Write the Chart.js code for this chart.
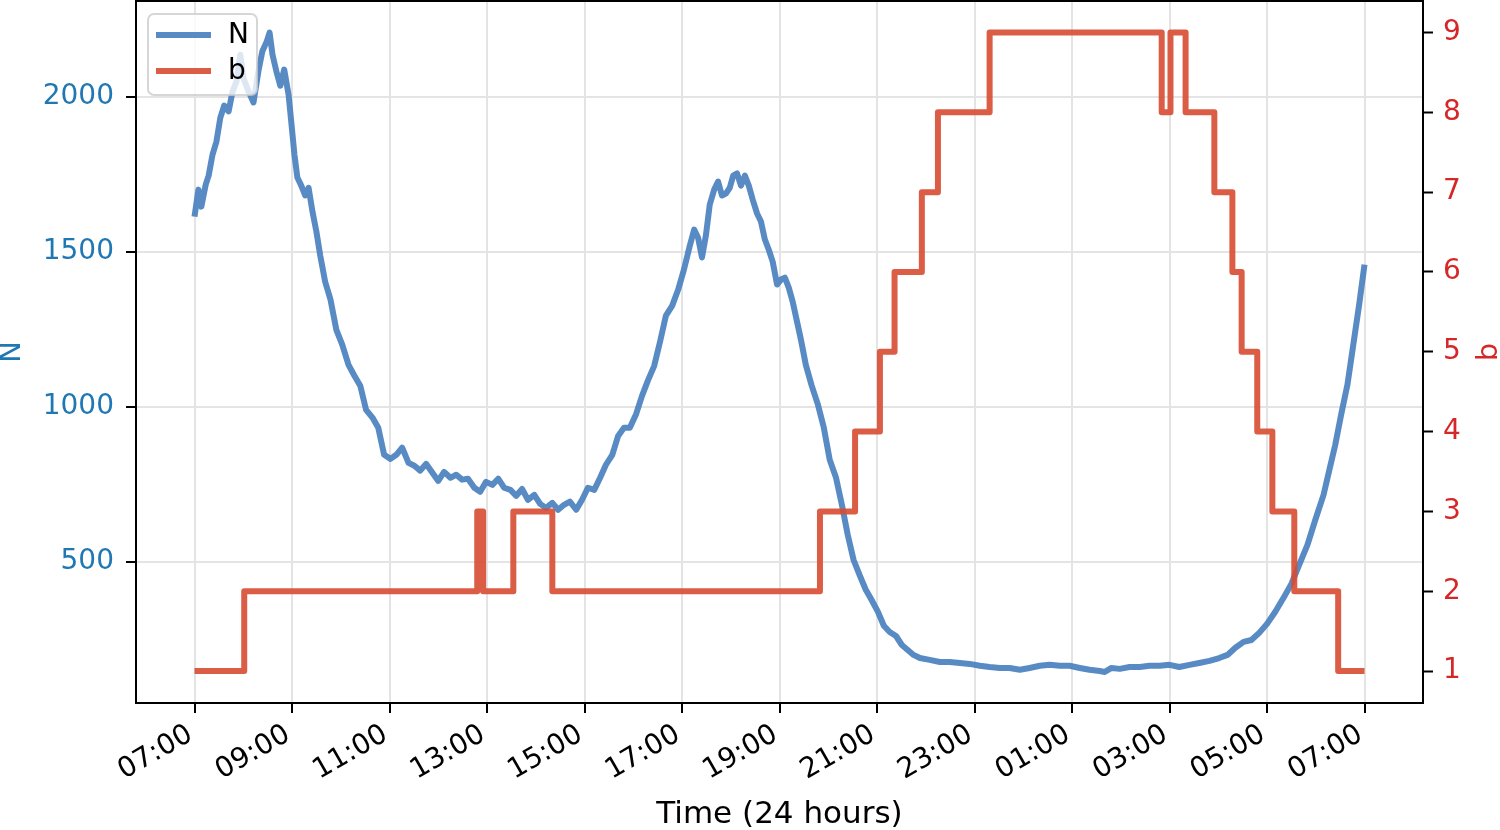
<!DOCTYPE html>
<html><head><meta charset="utf-8">
<script src="https://cdn.jsdelivr.net/npm/chart.js@4.4.1/dist/chart.umd.min.js"></script>
<style>html,body{margin:0;padding:0;background:#fff}canvas{display:block}</style>
</head><body>
<canvas id="c" width="1500" height="830"></canvas>
<script>
// ---- data (hours since 07:00) ----
const timeHours = [0,0.08,0.14,0.23,0.29,0.37,0.45,0.53,0.61,0.70,0.78,0.86,0.94,1.00,1.11,1.21,1.31,1.39,1.48,1.54,1.60,1.68,1.76,1.84,1.93,1.99,2.05,2.11,2.19,2.27,2.34,2.42,2.50,2.58,2.68,2.79,2.91,3.03,3.16,3.28,3.40,3.52,3.65,3.77,3.89,4.02,4.14,4.26,4.39,4.51,4.63,4.75,4.88,5.00,5.12,5.25,5.37,5.49,5.61,5.74,5.86,5.98,6.11,6.23,6.35,6.48,6.60,6.72,6.84,6.97,7.09,7.21,7.34,7.46,7.58,7.70,7.83,7.95,8.07,8.20,8.32,8.44,8.57,8.69,8.81,8.93,9.06,9.18,9.30,9.43,9.55,9.67,9.80,9.92,10.04,10.16,10.25,10.33,10.41,10.49,10.57,10.66,10.74,10.82,10.90,10.98,11.05,11.13,11.21,11.29,11.37,11.45,11.54,11.62,11.70,11.78,11.86,11.95,12.03,12.11,12.19,12.27,12.36,12.44,12.54,12.66,12.79,12.91,13.03,13.16,13.28,13.40,13.52,13.65,13.77,13.89,14.02,14.14,14.26,14.39,14.51,14.63,14.75,14.88,15.08,15.29,15.49,15.70,15.90,16.11,16.31,16.52,16.72,16.93,17.13,17.34,17.54,17.75,17.95,18.16,18.36,18.57,18.67,18.81,18.98,19.18,19.39,19.59,19.80,20.00,20.20,20.41,20.61,20.82,21.02,21.19,21.35,21.52,21.68,21.84,22.00,22.17,22.34,22.50,22.66,22.83,22.99,23.16,23.28,23.40,23.52,23.65,23.77,23.89,24.00];
const nValues = [1613,1700,1645,1716,1745,1813,1855,1932,1971,1952,2016,2048,2135,2061,2016,1981,2081,2145,2177,2206,2135,2081,2035,2087,2006,1910,1813,1739,1713,1681,1706,1629,1565,1487,1403,1345,1248,1200,1135,1100,1068,990,965,932,845,832,845,868,819,810,794,816,787,761,790,771,781,765,768,739,726,758,748,768,739,732,713,735,700,716,687,674,690,668,684,694,668,700,739,732,771,813,845,906,932,932,977,1035,1084,1132,1210,1294,1326,1377,1442,1519,1571,1545,1481,1552,1652,1700,1726,1681,1687,1706,1745,1752,1713,1745,1713,1668,1623,1597,1539,1506,1468,1394,1410,1416,1384,1339,1274,1216,1135,1068,1006,932,829,771,684,587,506,455,410,377,339,294,274,261,232,216,200,190,184,177,177,174,171,165,161,158,158,152,158,165,168,165,165,158,152,148,145,158,155,161,161,165,165,168,161,168,174,181,190,200,223,242,248,271,300,339,384,429,490,555,635,716,797,877,974,1071,1200,1329,1458];
const bTimes = [0,1.02,5.80,5.92,6.54,7.34,12.83,13.55,14.06,14.36,14.92,15.25,16.31,19.84,20.02,20.33,20.92,21.29,21.48,21.80,22.11,22.56,23.46,24.00];
const bValues = [1,2,3,2,3,2,3,4,5,6,7,8,9,8,9,8,7,6,5,4,3,2,1,1];
const xTickValues = [0,2,4,6,8,10,12,14,16,18,20,22,24];
const xTickLabels = ['07:00','09:00','11:00','13:00','15:00','17:00','19:00','21:00','23:00','01:00','03:00','05:00','07:00'];
const nTicks = [500,1000,1500,2000];
const bTicks = [1,2,3,4,5,6,7,8,9];
const seriesNames = ['N','b'];
const xTitle = 'Time (24 hours)';

const FONT = 'DejaVu Sans';
const nColor = 'rgba(70,125,190,0.9)';
const bColor = 'rgba(215,75,50,0.9)';
const nTickColor = '#1f77b4';
const bTickColor = '#d62728';

const toXY = (xs, ys) => xs.map((x, i) => ({x: x, y: ys[i]}));

const framePlugin = {
  id: 'frame',
  afterDatasetsDraw(chart) {
    const {ctx, chartArea: a} = chart;
    ctx.save();
    ctx.strokeStyle = '#000';
    ctx.lineWidth = 2;
    ctx.strokeRect(a.left, a.top, a.right - a.left, a.bottom - a.top);
    ctx.restore();
  },
  afterDraw(chart) {
    const {ctx, chartArea: a} = chart;
    // right axis title (bottom-to-top)
    ctx.save();
    ctx.font = '29px "' + FONT + '"';
    ctx.fillStyle = bTickColor;
    ctx.textAlign = 'center';
    ctx.textBaseline = 'middle';
    ctx.translate(1489, (a.top + a.bottom) / 2);
    ctx.rotate(-Math.PI / 2);
    ctx.fillText(seriesNames[1], 0, 0);
    ctx.restore();
    // legend
    ctx.save();
    const lx = 148, ly = 14, lw = 109, lh = 81, r = 6;
    ctx.beginPath();
    ctx.moveTo(lx + r, ly);
    ctx.arcTo(lx + lw, ly, lx + lw, ly + lh, r);
    ctx.arcTo(lx + lw, ly + lh, lx, ly + lh, r);
    ctx.arcTo(lx, ly + lh, lx, ly, r);
    ctx.arcTo(lx, ly, lx + lw, ly, r);
    ctx.closePath();
    ctx.fillStyle = 'rgba(255,255,255,0.8)';
    ctx.fill();
    ctx.strokeStyle = 'rgba(204,204,204,0.8)';
    ctx.lineWidth = 2;
    ctx.stroke();
    const cols = [nColor, bColor];
    const rows = [35, 71];
    ctx.font = '28px "' + FONT + '"';
    ctx.textBaseline = 'middle';
    ctx.textAlign = 'left';
    chart.data.datasets.forEach((ds, i) => {
      ctx.strokeStyle = cols[i];
      ctx.lineWidth = 6;
      ctx.beginPath();
      ctx.moveTo(156, rows[i]);
      ctx.lineTo(211, rows[i]);
      ctx.stroke();
      ctx.fillStyle = '#000';
      ctx.fillText(ds.label, 228, rows[i] + 1);
    });
    ctx.restore();
  }
};

new Chart(document.getElementById('c'), {
  type: 'line',
  data: {
    datasets: [
      {label: seriesNames[0], data: toXY(timeHours, nValues), yAxisID: 'yN',
       borderColor: nColor, borderWidth: 6, pointRadius: 0, tension: 0,
       borderJoinStyle: 'round', order: 2},
      {label: seriesNames[1], data: toXY(bTimes, bValues), yAxisID: 'yB',
       borderColor: bColor, borderWidth: 6, pointRadius: 0, tension: 0,
       stepped: 'before', borderJoinStyle: 'round', order: 1}
    ]
  },
  options: {
    responsive: false,
    animation: false,
    devicePixelRatio: 1,
    layout: {padding: {top: 1, left: 0, right: 0, bottom: 0}},
    plugins: {legend: {display: false}, tooltip: {enabled: false}},
    scales: {
      x: {
        type: 'linear', min: -1.2, max: 25.2,
        afterBuildTicks: s => { s.ticks = xTickValues.map(v => ({value: v})); },
        afterFit: s => { s.height = 127; s.paddingLeft = 0; s.paddingRight = 0; },
        ticks: {
          autoSkip: false, minRotation: 30, maxRotation: 30, padding: 5, labelOffset: -4,
          color: '#000', font: {family: FONT, size: 28},
          callback: v => xTickLabels[xTickValues.indexOf(v)]
        },
        grid: {color: '#e4e4e4', lineWidth: 2, tickColor: '#000', tickLength: 10, tickWidth: 2},
        border: {display: false},
        title: {display: true, text: xTitle, color: '#000', font: {family: FONT, size: 31, lineHeight: 1.0}, padding: {top: 0, bottom: 0}}
      },
      yN: {
        type: 'linear', position: 'left', min: 45, max: 2308,
        afterBuildTicks: s => { s.ticks = nTicks.map(v => ({value: v})); },
        afterFit: s => { s.width = 136; s.paddingTop = 0; s.paddingBottom = 0; },
        ticks: {padding: 12, color: nTickColor, font: {family: FONT, size: 28}, callback: v => String(v)},
        grid: {color: '#e4e4e4', lineWidth: 2, tickColor: '#000', tickLength: 10, tickWidth: 2},
        border: {display: false},
        title: {display: true, text: seriesNames[0], color: nTickColor, font: {family: FONT, size: 29, lineHeight: 0.85}, padding: {top: 0, bottom: 0}}
      },
      yB: {
        type: 'linear', position: 'right', min: 0.6, max: 9.395,
        afterBuildTicks: s => { s.ticks = bTicks.map(v => ({value: v})); },
        afterFit: s => { s.width = 77; s.paddingTop = 0; s.paddingBottom = 0; },
        ticks: {padding: 10, color: bTickColor, font: {family: FONT, size: 28}, callback: v => String(v)},
        grid: {drawOnChartArea: false, tickColor: '#000', tickLength: 10, tickWidth: 2},
        border: {display: false}
      }
    }
  },
  plugins: [framePlugin]
});
</script>
</body></html>
